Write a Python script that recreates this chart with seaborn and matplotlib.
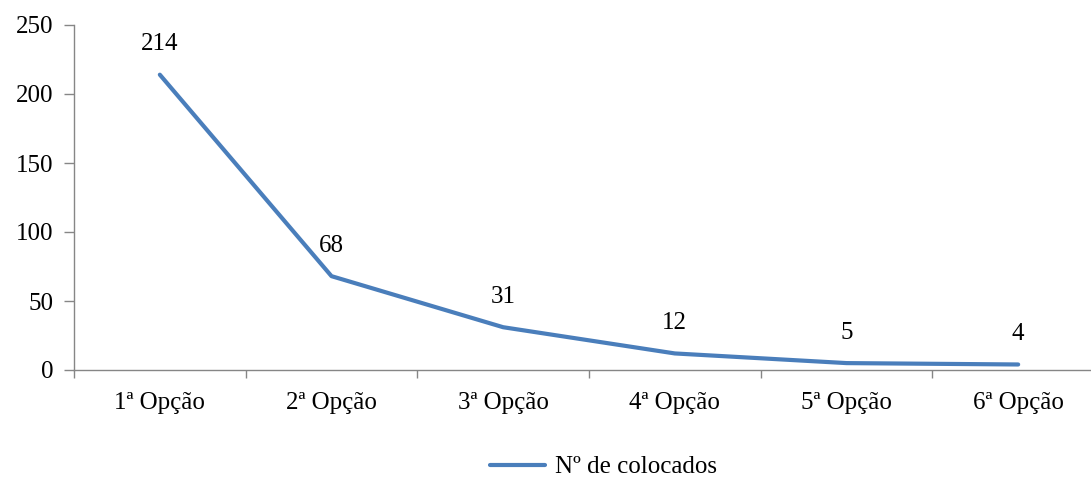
import matplotlib
matplotlib.use("Agg")
import matplotlib.pyplot as plt
import seaborn as sns
import pandas as pd
from matplotlib.ticker import MultipleLocator, FixedLocator, NullFormatter

# Data
opcoes = ["1ª Opção", "2ª Opção", "3ª Opção", "4ª Opção", "5ª Opção", "6ª Opção"]
colocados = [214, 68, 31, 12, 5, 4]
serieNome = "Nº de colocados"

sns.set_style("white")
plt.rcParams["font.family"] = ["Liberation Serif", "DejaVu Serif"]
plt.rcParams["text.color"] = "black"

df = pd.DataFrame({"opcao": opcoes, "colocados": colocados})

fig = plt.figure(figsize=(10.91, 4.79), dpi=100)
# axes spans slightly past the right edge like the original crop
ax = fig.add_axes([74 / 1091, 109 / 479, (1104 - 74) / 1091, 345 / 479])

lineColor = "#4A7EBB"
fs = 18
sns.lineplot(data=df, x="opcao", y="colocados", sort=False, ax=ax,
             color=lineColor, linewidth=3.0, label=serieNome, legend=False)

# data labels
for i, v in enumerate(colocados):
    ax.annotate(str(v), (i, v), xytext=(0, 22), textcoords="offset points",
                ha="center", va="center", fontsize=fs, color="black")

ax.set_xlim(-0.5, len(opcoes) - 0.5)
ax.set_ylim(0, 250)
ax.yaxis.set_major_locator(MultipleLocator(50))
ax.set_xlabel("")
ax.set_ylabel("")

spineColor = "#868686"
for side in ["top", "right"]:
    ax.spines[side].set_visible(False)
for side in ["left", "bottom"]:
    ax.spines[side].set_color(spineColor)
    ax.spines[side].set_linewidth(1.0)

# x ticks: labels at centres, tick marks at category boundaries
ax.xaxis.set_minor_locator(FixedLocator([i - 0.5 for i in range(len(opcoes) + 1)]))
ax.xaxis.set_minor_formatter(NullFormatter())
ax.tick_params(axis="x", which="major", length=0, pad=16, labelsize=fs,
               labelcolor="black")
ax.tick_params(axis="x", which="minor", length=6, width=1, color=spineColor,
               direction="out", bottom=True)
ax.tick_params(axis="y", which="major", length=7, width=1, color=spineColor,
               direction="out", left=True, pad=8, labelsize=fs,
               labelcolor="black")

handles, labels = ax.get_legend_handles_labels()
leg = fig.legend(handles, labels, loc="center", bbox_to_anchor=(0.553, 12 / 479),
                 frameon=False, fontsize=fs, handlelength=2.2, handletextpad=0.4)
for t in leg.get_texts():
    t.set_color("black")

fig.savefig("out.png", dpi=100)
